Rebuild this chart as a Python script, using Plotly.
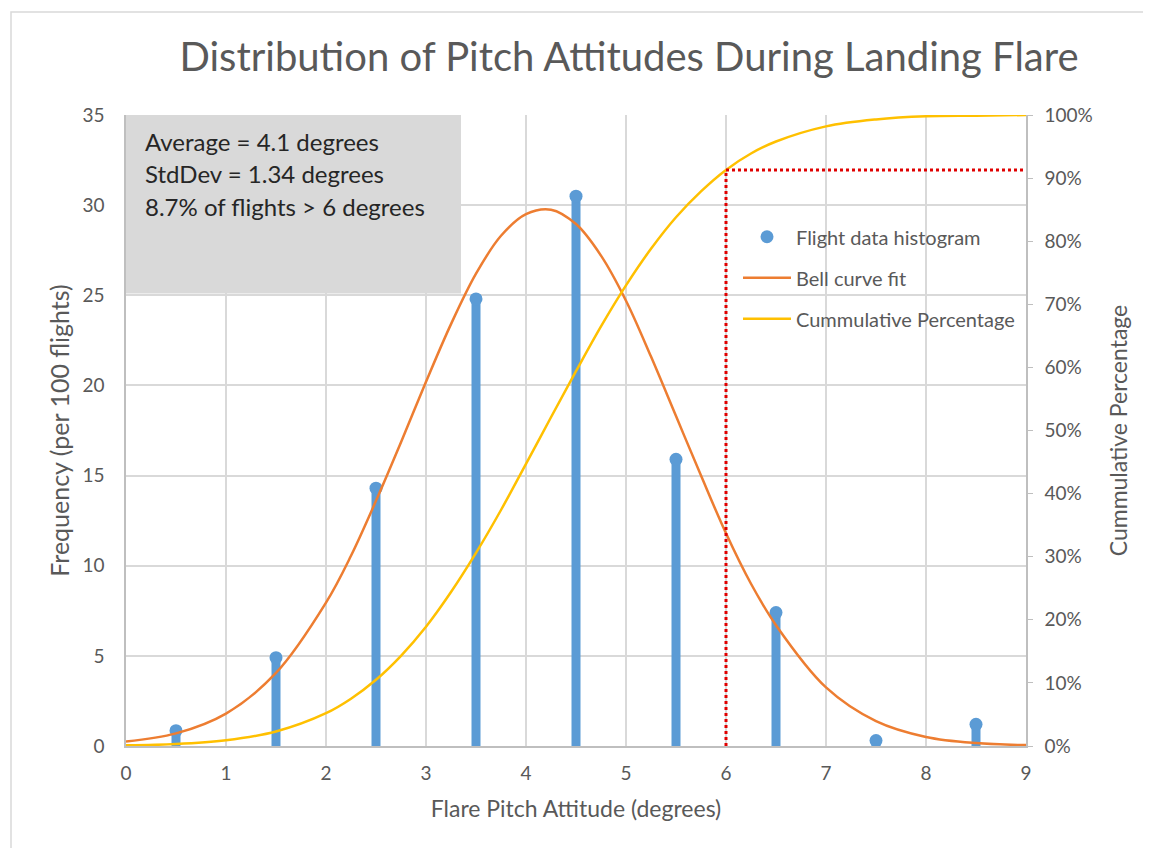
import plotly.graph_objects as go

# ---- data ----
bin_centers = [0.5, 1.5, 2.5, 3.5, 4.5, 5.5, 6.5, 7.5, 8.5]
frequency = [0.85, 4.9, 14.3, 24.8, 30.5, 15.9, 7.4, 0.3, 1.2]

curve_x = [0, 0.5, 1, 1.5, 2, 2.25, 2.5, 2.75, 3, 3.25, 3.5, 3.75, 4, 4.25, 4.5, 4.75,
           5, 5.25, 5.5, 5.75, 6, 6.25, 6.5, 7, 7.5, 8, 8.5, 9]
bell_fit = [0.25, 0.7, 1.8, 4.05, 7.95, 10.55, 13.6, 16.85, 20.2, 23.4, 26.2, 28.3,
            29.5, 29.75, 28.95, 27.2, 24.7, 21.6, 18.3, 15.0, 11.8, 9.0, 6.7, 3.25,
            1.38, 0.5, 0.16, 0.05]
cumulative_pct = [0.1, 0.3, 0.9, 2.3, 5.2, 7.5, 10.5, 14.3, 18.9, 24.4, 30.6, 37.4,
                  44.7, 52.1, 59.4, 66.5, 73.0, 78.8, 83.8, 87.9, 91.3, 93.9, 95.8,
                  98.2, 99.3, 99.8, 99.9, 100.0]

threshold_x = 6
threshold_pct = 91.3
x_max = 9

stats_lines = ["Average = 4.1 degrees", "StdDev = 1.34 degrees", "8.7% of flights > 6 degrees"]
stats_y = [33.55, 31.75, 29.95]

BLUE = "#5B9BD5"
ORANGE = "#ED7D31"
YELLOW = "#FFC000"
RED = "#E00000"
GRAY_TXT = "#595959"
FONT = "Lato"

W, H = 1143, 840  # page shows the figure with an 8 px body margin

fig = go.Figure()

fig.add_trace(go.Scatter(
    x=bin_centers, y=frequency, mode="markers", name="Flight data histogram",
    marker=dict(color=BLUE, size=13),
    error_y=dict(type="data", symmetric=False, array=[0] * len(frequency),
                 arrayminus=frequency, thickness=9, width=0, color=BLUE),
    legendgroup="a",
))
fig.add_trace(go.Scatter(
    x=curve_x, y=bell_fit, mode="lines", name="Bell curve fit",
    line=dict(color=ORANGE, width=2.5, shape="spline"), legendgroup="b",
))
fig.add_trace(go.Scatter(
    x=curve_x, y=[v / 100 for v in cumulative_pct], mode="lines", name="Cummulative Percentage",
    line=dict(color=YELLOW, width=2.5, shape="spline"), yaxis="y2", legendgroup="c",
))
fig.add_trace(go.Scatter(
    x=[threshold_x, threshold_x], y=[0, threshold_pct / 100], mode="lines", yaxis="y2",
    line=dict(color=RED, width=3, dash="dot"), showlegend=False, hoverinfo="skip",
))
fig.add_trace(go.Scatter(
    x=[threshold_x, x_max], y=[threshold_pct / 100, threshold_pct / 100], mode="lines", yaxis="y2",
    line=dict(color=RED, width=3, dash="dot"), showlegend=False, hoverinfo="skip",
))

# stats box
fig.add_shape(type="rect", xref="x", yref="y", x0=0, x1=3.35, y0=25.1, y1=35,
              fillcolor="#D9D9D9", line=dict(width=0), layer="between")
for txt, yy in zip(stats_lines, stats_y):
    fig.add_annotation(x=0.17, y=yy, xref="x", yref="y", text=txt, showarrow=False,
                       xanchor="left", yanchor="middle",
                       font=dict(family=FONT, size=24, color="#262626"))

# outer border
fig.add_shape(type="rect", xref="paper", yref="paper",
              x0=(3 - 118) / 900, x1=(1170 - 118) / 900,
              y0=(738 - 870) / 631, y1=(738 - 4) / 631,
              line=dict(color="#D9D9D9", width=1.5), fillcolor="rgba(0,0,0,0)")

fig.update_layout(
    width=W, height=H,
    margin=dict(l=118, r=W - 118 - 900, t=107, b=H - 107 - 631),
    paper_bgcolor="white", plot_bgcolor="white",
    font=dict(family=FONT, color=GRAY_TXT, size=19),
    title=dict(text="Distribution of Pitch Attitudes During Landing Flare",
               x=(629 - 8) / W, xanchor="center", y=1 - (57 - 8) / H, yanchor="middle",
               xref="container", yref="container",
               font=dict(family=FONT, size=40, color=GRAY_TXT)),
    xaxis=dict(range=[0, x_max], tickvals=list(range(0, 10)), showgrid=True,
               gridcolor="#D9D9D9", gridwidth=1.5, showline=True, linecolor="#BFBFBF",
               linewidth=1.5, zeroline=False, ticks="", ticklabelstandoff=9,
               tickfont=dict(size=19, color=GRAY_TXT),
               title=dict(text="Flare Pitch Attitude (degrees)", standoff=18,
                          font=dict(size=23, color=GRAY_TXT))),
    yaxis=dict(range=[0, 35], dtick=5, showgrid=True, gridcolor="#D9D9D9", gridwidth=1.5,
               showline=True, linecolor="#BFBFBF", linewidth=1.5, zeroline=False, ticks="",
               ticklabelstandoff=16, tickfont=dict(size=19, color=GRAY_TXT),
               title=dict(text="Frequency (per 100 flights)", standoff=6,
                          font=dict(size=25, color=GRAY_TXT))),
    yaxis2=dict(range=[0, 1], dtick=0.1, tickformat=".0%", overlaying="y", side="right",
                showgrid=False, showline=True, linecolor="#BFBFBF", linewidth=1.5,
                zeroline=False, ticks="outside", ticklen=5, tickcolor="#BFBFBF",
                ticklabelstandoff=8, tickfont=dict(size=19, color=GRAY_TXT),
                title=dict(text="Cummulative Percentage", standoff=19,
                           font=dict(size=23, color=GRAY_TXT))),
    legend=dict(x=0.68, y=0.838, xanchor="left", yanchor="top", bgcolor="rgba(0,0,0,0)",
                font=dict(size=20, color=GRAY_TXT), tracegroupgap=12, traceorder="grouped",
                itemwidth=48),
    showlegend=True,
)

fig.write_html("out.html")
